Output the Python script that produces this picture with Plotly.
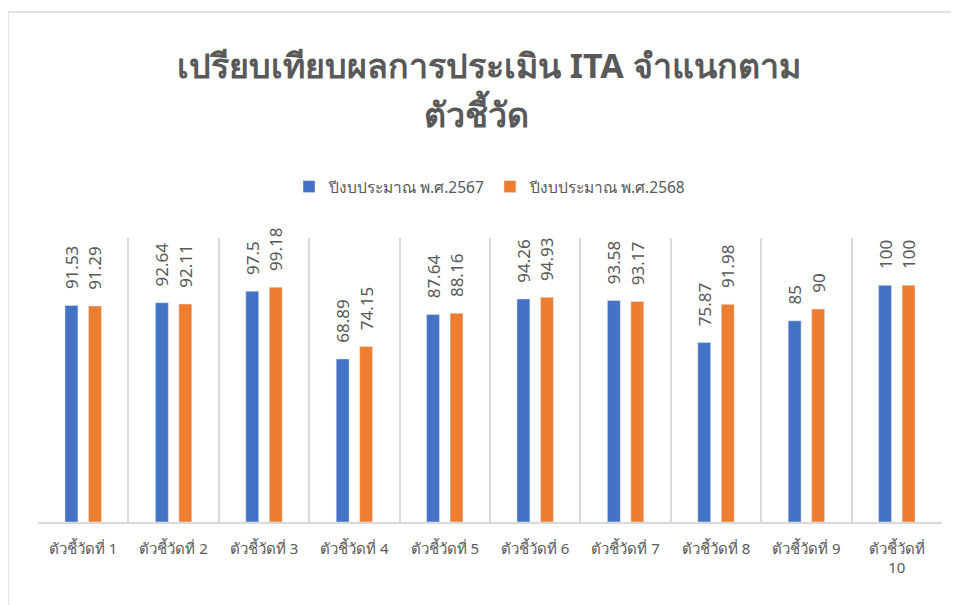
import plotly.graph_objects as go

categories = ["ตัวชี้วัดที่ 1", "ตัวชี้วัดที่ 2", "ตัวชี้วัดที่ 3", "ตัวชี้วัดที่ 4", "ตัวชี้วัดที่ 5",
              "ตัวชี้วัดที่ 6", "ตัวชี้วัดที่ 7", "ตัวชี้วัดที่ 8", "ตัวชี้วัดที่ 9", "ตัวชี้วัดที่<br>10"]
series_2567 = [91.53, 92.64, 97.5, 68.89, 87.64, 94.26, 93.58, 75.87, 85, 100]
series_2568 = [91.29, 92.11, 99.18, 74.15, 88.16, 94.93, 93.17, 91.98, 90, 100]
name_2567 = "ปีงบประมาณ พ.ศ.2567"
name_2568 = "ปีงบประมาณ พ.ศ.2568"
title_line1 = "เปรียบเทียบผลการประเมิน ITA จำแนกตาม"
title_line2 = "ตัวชี้วัด"

FONT = "Noto Sans, DejaVu Sans, sans-serif"
GRAY = "#595959"
LINE = "#d9d9d9"

# plot area in screen pixels (page has an 8px body margin)
PL, PR, PT, PB = 38, 942, 238, 522
def px(x):
    return (x - PL) / (PR - PL)
def py(y):
    return (PB - y) / (PB - PT)

fig = go.Figure()
for name, vals, color in [(name_2567, series_2567, "#4472C4"), (name_2568, series_2568, "#ED7D31")]:
    fig.add_trace(go.Bar(
        x=categories, y=vals, name=name, marker_color=color,
        text=["\u00a0\u00a0\u00a0" + f"{v:g}" for v in vals], textposition="outside", textangle=-90,
        constraintext="none",
        textfont=dict(size=17, color=GRAY, family=FONT), cliponaxis=False,
    ))

fig.update_layout(
    width=959, height=605,
    paper_bgcolor="white", plot_bgcolor="white",
    margin=dict(l=PL - 8, r=959 - PR + 8, t=PT - 8, b=605 - PB + 8),
    barmode="group", bargap=0.48, bargroupgap=0.45,
    font=dict(family=FONT, color=GRAY),
    legend=dict(orientation="h", x=px(490), xanchor="center", y=py(187), yanchor="middle",
                font=dict(size=15.5, color=GRAY), traceorder="normal"),
    annotations=[
        dict(text="<b>" + title_line1 + "</b>", x=px(489), y=py(65), xref="paper", yref="paper",
             showarrow=False, xanchor="center", yanchor="middle",
             font=dict(size=34, color=GRAY, family=FONT)),
        dict(text="<b>" + title_line2 + "</b>", x=px(476), y=py(113), xref="paper", yref="paper",
             showarrow=False, xanchor="center", yanchor="middle",
             font=dict(size=34, color=GRAY, family=FONT)),
    ],
    shapes=[dict(type="rect", xref="paper", yref="paper",
                 x0=px(8), x1=px(975), y0=py(640), y1=py(12),
                 line=dict(color=LINE, width=1.5), layer="below")],
)
fig.update_xaxes(tickson="boundaries", showgrid=True, gridcolor=LINE, gridwidth=1.5,
                 showline=True, linecolor=LINE, linewidth=1.5, ticks="",
                 ticklabelstandoff=12,
                 tickfont=dict(size=15, color=GRAY))
fig.update_yaxes(range=[0, 120], visible=False, showgrid=False)

fig.write_html("out.html")
